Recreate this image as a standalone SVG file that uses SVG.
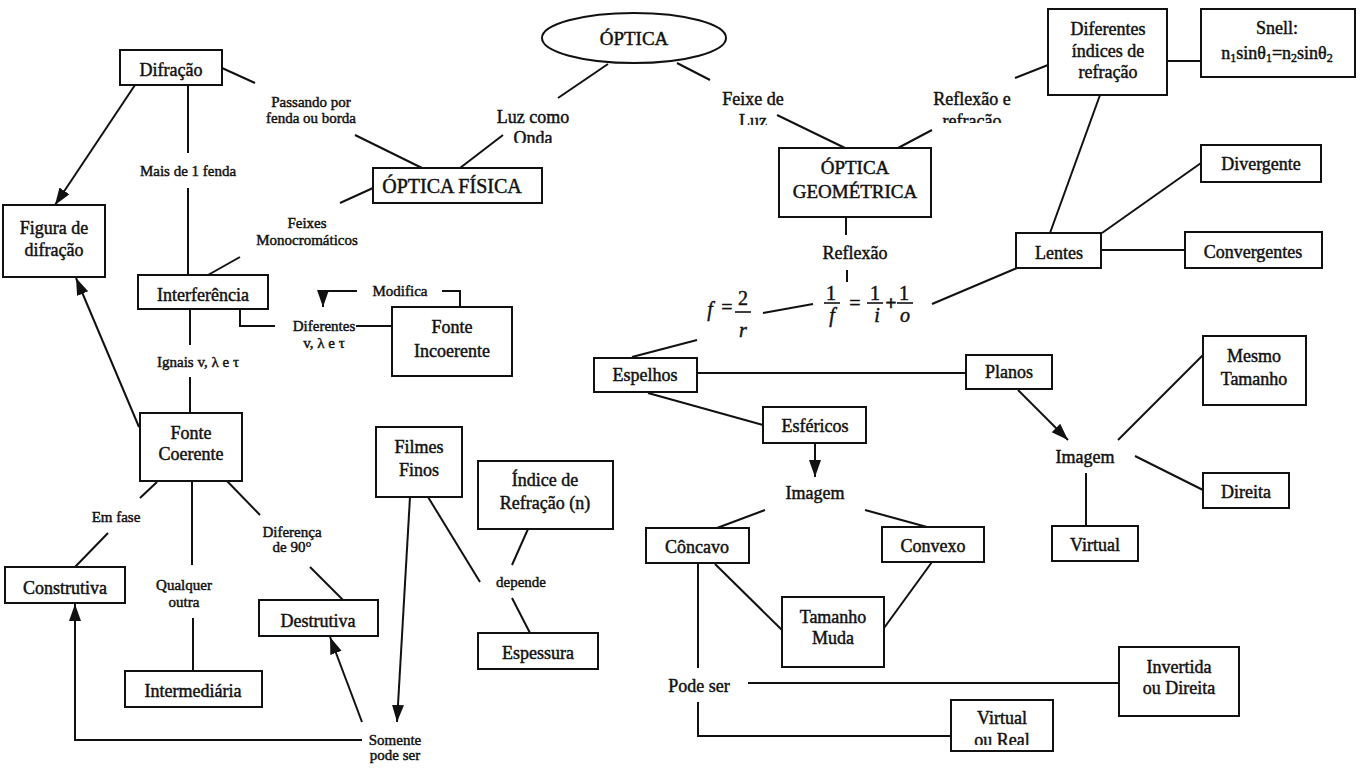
<svg xmlns="http://www.w3.org/2000/svg" width="1361" height="769" viewBox="0 0 1361 769">
  <style>
    .box { fill: #fff; stroke: #111; stroke-width: 2; }
    .ln { fill: none; stroke: #111; stroke-width: 2; }
    .ar { marker-end: url(#arrow); }
    text { font-family: "Liberation Serif", "Times New Roman", serif; fill: #111; text-anchor: middle; stroke: #111; stroke-width: 0.45; }
    .t { font-size: 18px; }
    .big { font-size: 20px; }
    .s { font-size: 15px; }
    .math { font-size: 20px; }
    .it { font-style: italic; }
  </style>
  <defs>
    <marker id="arrow" markerUnits="userSpaceOnUse" markerWidth="18" markerHeight="14" refX="17" refY="7" orient="auto">
      <path d="M0,1 L17,7 L0,13 z" fill="#111"/>
    </marker>
    <clipPath id="clipOnda"><rect x="480" y="100" width="110" height="43"/></clipPath>
    <clipPath id="clipLuz"><rect x="700" y="85" width="110" height="40"/></clipPath>
    <clipPath id="clipRefr"><rect x="920" y="85" width="110" height="38"/></clipPath>
    <clipPath id="clipReal"><rect x="955" y="702" width="95" height="43"/></clipPath>
  </defs>

  <rect x="0" y="0" width="1361" height="769" fill="#fff"/>

  <!-- connectors -->
  <g id="connectors">
    <!-- ÓPTICA branches -->
    <line class="ln" x1="608" y1="64" x2="558" y2="98"/>
    <line class="ln" x1="503" y1="135" x2="460" y2="168"/>
    <line class="ln" x1="677" y1="63" x2="710" y2="80"/>
    <line class="ln" x1="777" y1="115" x2="845" y2="148"/>
    <!-- geometric optics -->
    <line class="ln" x1="898" y1="148" x2="932" y2="130"/>
    <line class="ln" x1="1015" y1="78" x2="1048" y2="65"/>
    <line class="ln" x1="1167" y1="61" x2="1201" y2="61"/>
    <line class="ln" x1="1100" y1="95" x2="1050" y2="233"/>
    <line class="ln" x1="1102" y1="233" x2="1201" y2="163"/>
    <line class="ln" x1="1101" y1="250" x2="1185" y2="250"/>
    <line class="ln" x1="932" y1="304" x2="1017" y2="268"/>
    <line class="ln" x1="846" y1="218" x2="846" y2="235"/>
    <line class="ln" x1="847" y1="270" x2="847" y2="282"/>
    <line class="ln" x1="763" y1="313" x2="813" y2="304"/>
    <line class="ln" x1="697" y1="340" x2="632" y2="357"/>
    <line class="ln" x1="697" y1="373" x2="966" y2="373"/>
    <line class="ln ar" x1="1018" y1="390" x2="1068" y2="440"/>
    <line class="ln" x1="1118" y1="440" x2="1203" y2="355"/>
    <line class="ln" x1="1135" y1="456" x2="1203" y2="490"/>
    <line class="ln" x1="1086" y1="473" x2="1086" y2="526"/>
    <line class="ln" x1="648" y1="393" x2="763" y2="425"/>
    <line class="ln ar" x1="815" y1="443" x2="815" y2="477"/>
    <line class="ln" x1="765" y1="510" x2="717" y2="528"/>
    <line class="ln" x1="865" y1="510" x2="927" y2="527"/>
    <line class="ln" x1="715" y1="564" x2="782" y2="630"/>
    <line class="ln" x1="884" y1="628" x2="932" y2="562"/>
    <line class="ln" x1="698" y1="563" x2="698" y2="668"/>
    <line class="ln" x1="748" y1="683" x2="1119" y2="683"/>
    <polyline class="ln" points="698,702 698,736 951,736"/>

    <!-- physical optics -->
    <line class="ln" x1="222" y1="68" x2="255" y2="83"/>
    <line class="ln" x1="355" y1="135" x2="422" y2="168"/>
    <line class="ln ar" x1="135" y1="85" x2="55" y2="205"/>
    <line class="ln" x1="188" y1="85" x2="188" y2="153"/>
    <line class="ln" x1="188" y1="188" x2="188" y2="275"/>
    <line class="ln" x1="373" y1="188" x2="340" y2="203"/>
    <line class="ln" x1="240" y1="257" x2="208" y2="275"/>
    <line class="ln" x1="190" y1="309" x2="190" y2="345"/>
    <line class="ln" x1="190" y1="377" x2="190" y2="413"/>
    <polyline class="ln" points="240,309 240,326 275,326"/>
    <line class="ln" x1="356" y1="326" x2="392" y2="326"/>
    <polyline class="ln" points="460,307 460,291 442,291"/>
    <polyline class="ln ar" points="357,291 323,291 323,307"/>
    <line class="ln ar" x1="139" y1="427" x2="76" y2="278"/>
    <line class="ln" x1="157" y1="482" x2="140" y2="498"/>
    <line class="ln" x1="108" y1="533" x2="75" y2="567"/>
    <line class="ln" x1="192" y1="481" x2="192" y2="565"/>
    <line class="ln" x1="193" y1="618" x2="193" y2="671"/>
    <line class="ln" x1="227" y1="481" x2="260" y2="515"/>
    <line class="ln" x1="310" y1="567" x2="343" y2="600"/>
    <line class="ln ar" x1="410" y1="497" x2="397" y2="722"/>
    <line class="ln ar" x1="362" y1="722" x2="330" y2="637"/>
    <polyline class="ln ar" points="362,740 75,740 75,604"/>
    <line class="ln" x1="428" y1="497" x2="480" y2="582"/>
    <line class="ln" x1="528" y1="529" x2="512" y2="565"/>
    <line class="ln" x1="512" y1="598" x2="530" y2="633"/>
  </g>

  <!-- root -->
  <g id="optica">
    <ellipse class="box" cx="634" cy="38" rx="92" ry="25"/>
    <text class="t" x="634" y="45" style="font-size:19px">ÓPTICA</text>
  </g>

  <!-- link labels -->
  <g id="lbl-luz-onda">
    <text class="t" x="533" y="123">Luz como</text>
    <text class="t" x="533" y="144" clip-path="url(#clipOnda)">Onda</text>
  </g>
  <g id="lbl-feixe-luz">
    <text class="t" x="753" y="105">Feixe de</text>
    <text class="t" x="753" y="127" clip-path="url(#clipLuz)">Luz</text>
  </g>
  <g id="lbl-reflexao-refracao">
    <text class="t" x="972" y="105">Reflexão e</text>
    <text class="t" x="972" y="127" clip-path="url(#clipRefr)">refração</text>
  </g>
  <g id="lbl-reflexao"><text class="t" x="855" y="259">Reflexão</text></g>
  <g id="lbl-imagem-esf"><text class="t" x="815" y="499">Imagem</text></g>
  <g id="lbl-imagem-planos"><text class="t" x="1085" y="463">Imagem</text></g>
  <g id="lbl-pode-ser"><text class="t" x="699" y="692">Pode ser</text></g>

  <g id="lbl-passando">
    <text class="s" x="311" y="107">Passando por</text>
    <text class="s" x="311" y="123">fenda ou borda</text>
  </g>
  <g id="lbl-mais-fenda"><text class="s" x="188" y="176">Mais de 1 fenda</text></g>
  <g id="lbl-feixes">
    <text class="s" x="307" y="228">Feixes</text>
    <text class="s" x="307" y="245">Monocromáticos</text>
  </g>
  <g id="lbl-modifica"><text class="s" x="400" y="296">Modifica</text></g>
  <g id="lbl-diferentes">
    <text class="s" x="324" y="331">Diferentes</text>
    <text class="s" x="324" y="348">v, λ e τ</text>
  </g>
  <g id="lbl-iguais"><text class="s" x="198" y="367">Ignais v, λ e τ</text></g>
  <g id="lbl-em-fase"><text class="s" x="116" y="522">Em fase</text></g>
  <g id="lbl-qualquer">
    <text class="s" x="184" y="590">Qualquer</text>
    <text class="s" x="184" y="607">outra</text>
  </g>
  <g id="lbl-diferenca">
    <text class="s" x="292" y="537">Diferença</text>
    <text class="s" x="292" y="552">de 90°</text>
  </g>
  <g id="lbl-somente">
    <text class="s" x="395" y="745">Somente</text>
    <text class="s" x="395" y="760">pode ser</text>
  </g>
  <g id="lbl-depende"><text class="s" x="521" y="587">depende</text></g>

  <!-- formulas -->
  <g id="formula-espelho" class="math">
    <text class="it" x="710" y="316">f</text>
    <text x="727" y="314">=</text>
    <text x="743" y="305">2</text>
    <line class="ln" x1="735" y1="312" x2="751" y2="312" style="stroke-width:1.6"/>
    <text class="it" x="743" y="337">r</text>
  </g>
  <g id="formula-lente" class="math">
    <text x="831" y="300">1</text>
    <line class="ln" x1="824" y1="303" x2="840" y2="303" style="stroke-width:1.6"/>
    <text class="it" x="832" y="322">f</text>
    <text x="855" y="310">=</text>
    <text x="875" y="300">1</text>
    <line class="ln" x1="867" y1="303" x2="883" y2="303" style="stroke-width:1.6"/>
    <text class="it" x="877" y="322">i</text>
    <text x="891" y="310" style="font-weight:bold">+</text>
    <text x="904" y="300">1</text>
    <line class="ln" x1="897" y1="303" x2="913" y2="303" style="stroke-width:1.6"/>
    <text class="it" x="905" y="322">o</text>
  </g>

  <!-- nodes -->
  <g id="difracao">
    <rect class="box" x="120" y="50" width="102" height="35"/>
    <text class="t" x="171" y="76">Difração</text>
  </g>
  <g id="figura-difracao">
    <rect class="box" x="3" y="205" width="102" height="72"/>
    <text class="t" x="54" y="234">Figura de</text>
    <text class="t" x="54" y="256">difração</text>
  </g>
  <g id="optica-fisica">
    <rect class="box" x="373" y="168" width="169" height="35"/>
    <text class="big" x="452" y="193">ÓPTICA FÍSICA</text>
  </g>
  <g id="interferencia">
    <rect class="box" x="138" y="275" width="130" height="34"/>
    <text class="t" x="203" y="301">Interferência</text>
  </g>
  <g id="fonte-coerente">
    <rect class="box" x="140" y="413" width="102" height="68"/>
    <text class="t" x="191" y="439">Fonte</text>
    <text class="t" x="191" y="460">Coerente</text>
  </g>
  <g id="fonte-incoerente">
    <rect class="box" x="392" y="307" width="120" height="69"/>
    <text class="t" x="452" y="333">Fonte</text>
    <text class="t" x="452" y="357">Incoerente</text>
  </g>
  <g id="construtiva">
    <rect class="box" x="5" y="567" width="120" height="36"/>
    <text class="t" x="65" y="594">Construtiva</text>
  </g>
  <g id="intermediaria">
    <rect class="box" x="125" y="671" width="137" height="36"/>
    <text class="t" x="193" y="697">Intermediária</text>
  </g>
  <g id="destrutiva">
    <rect class="box" x="259" y="600" width="119" height="36"/>
    <text class="t" x="318" y="627">Destrutiva</text>
  </g>
  <g id="filmes-finos">
    <rect class="box" x="376" y="427" width="86" height="70"/>
    <text class="t" x="419" y="453">Filmes</text>
    <text class="t" x="419" y="476">Finos</text>
  </g>
  <g id="indice-refracao">
    <rect class="box" x="478" y="461" width="135" height="68"/>
    <text class="t" x="545" y="486">Índice de</text>
    <text class="t" x="545" y="509">Refração (n)</text>
  </g>
  <g id="espessura">
    <rect class="box" x="478" y="633" width="120" height="36"/>
    <text class="t" x="538" y="659">Espessura</text>
  </g>
  <g id="optica-geometrica">
    <rect class="box" x="779" y="148" width="152" height="69"/>
    <text class="t" x="855" y="174" style="font-size:19px">ÓPTICA</text>
    <text class="t" x="855" y="198" style="font-size:19px">GEOMÉTRICA</text>
  </g>
  <g id="diferentes-indices">
    <rect class="box" x="1048" y="9" width="119" height="86"/>
    <text class="t" x="1108" y="35">Diferentes</text>
    <text class="t" x="1108" y="57">índices de</text>
    <text class="t" x="1108" y="78">refração</text>
  </g>
  <g id="snell">
    <rect class="box" x="1201" y="9" width="154" height="68"/>
    <text class="t" x="1277" y="34">Snell:</text>
    <text class="t" x="1277" y="59">n<tspan font-size="12" dy="3">1</tspan><tspan dy="-3">sinθ</tspan><tspan font-size="12" dy="3">1</tspan><tspan dy="-3">=n</tspan><tspan font-size="12" dy="3">2</tspan><tspan dy="-3">sinθ</tspan><tspan font-size="12" dy="3">2</tspan></text>
  </g>
  <g id="lentes">
    <rect class="box" x="1016" y="233" width="85" height="35"/>
    <text class="t" x="1059" y="259">Lentes</text>
  </g>
  <g id="divergente">
    <rect class="box" x="1201" y="145" width="120" height="37"/>
    <text class="t" x="1261" y="170">Divergente</text>
  </g>
  <g id="convergentes">
    <rect class="box" x="1185" y="232" width="137" height="36"/>
    <text class="t" x="1253" y="258">Convergentes</text>
  </g>
  <g id="espelhos">
    <rect class="box" x="594" y="358" width="103" height="34"/>
    <text class="t" x="645" y="381">Espelhos</text>
  </g>
  <g id="planos">
    <rect class="box" x="966" y="355" width="86" height="34"/>
    <text class="t" x="1009" y="378">Planos</text>
  </g>
  <g id="esfericos">
    <rect class="box" x="763" y="407" width="103" height="36"/>
    <text class="t" x="815" y="432">Esféricos</text>
  </g>
  <g id="concavo">
    <rect class="box" x="646" y="528" width="103" height="35"/>
    <text class="t" x="697" y="553">Côncavo</text>
  </g>
  <g id="convexo">
    <rect class="box" x="882" y="527" width="102" height="35"/>
    <text class="t" x="933" y="552">Convexo</text>
  </g>
  <g id="tamanho-muda">
    <rect class="box" x="782" y="597" width="102" height="70"/>
    <text class="t" x="833" y="623">Tamanho</text>
    <text class="t" x="833" y="644">Muda</text>
  </g>
  <g id="mesmo-tamanho">
    <rect class="box" x="1203" y="336" width="103" height="69"/>
    <text class="t" x="1254" y="362">Mesmo</text>
    <text class="t" x="1254" y="385">Tamanho</text>
  </g>
  <g id="direita">
    <rect class="box" x="1203" y="473" width="86" height="35"/>
    <text class="t" x="1246" y="498">Direita</text>
  </g>
  <g id="virtual">
    <rect class="box" x="1052" y="526" width="86" height="35"/>
    <text class="t" x="1095" y="551">Virtual</text>
  </g>
  <g id="invertida-direita">
    <rect class="box" x="1119" y="647" width="120" height="69"/>
    <text class="t" x="1179" y="673">Invertida</text>
    <text class="t" x="1179" y="694">ou Direita</text>
  </g>
  <g id="virtual-real">
    <rect class="box" x="951" y="700" width="102" height="51"/>
    <text class="t" x="1002" y="724">Virtual</text>
    <text class="t" x="1002" y="746" clip-path="url(#clipReal)">ou Real</text>
  </g>
</svg>
